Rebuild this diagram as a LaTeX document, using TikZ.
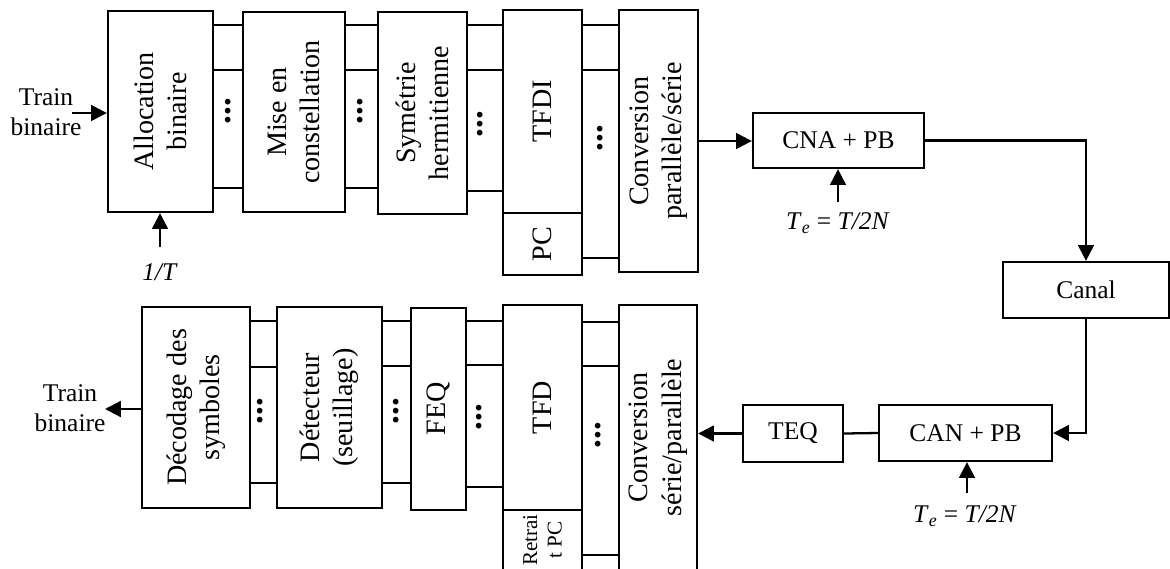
\documentclass[tikz,border=0pt]{standalone}
\usepackage{fontspec}
\setmainfont{Liberation Serif}
\usetikzlibrary{arrows.meta}

\begin{document}
\begin{tikzpicture}[
  wire/.style={line width=1.3pt},
  arr/.style={wire, -{Triangle[length=9pt, width=9pt]}},
  blk/.style={draw, line width=1.3pt, inner sep=0pt},
  hblk/.style={blk, font=\fontsize{14.5}{17}\selectfont},
  vlab/.style={rotate=90, align=center, font=\fontsize{16}{19}\selectfont},
  small/.style={rotate=90, align=center, font=\fontsize{12}{14}\selectfont},
  dots/.style={rotate=90, inner sep=0pt, font=\fontsize{20}{20}\selectfont\bfseries},
  note/.style={align=center, font=\fontsize{14.5}{17}\selectfont}
]
\path[use as bounding box, clip] (0,0) rectangle (23.4,-11.36);

% emission chain
\node[blk, minimum width=2.10cm, minimum height=4.02cm] (alloc) at (3.21,-2.23) {};
\node[blk, minimum width=2.04cm, minimum height=4.00cm] (mise) at (5.88,-2.24) {};
\node[blk, minimum width=1.78cm, minimum height=4.04cm] (sym) at (8.45,-2.26) {};
\node[blk, minimum width=1.58cm, minimum height=4.06cm] (tfdi) at (10.85,-2.23) {};
\node[blk, minimum width=1.58cm, minimum height=1.24cm] (pc) at (10.85,-4.88) {};
\node[blk, minimum width=1.58cm, minimum height=5.24cm] (convps) at (13.17,-2.82) {};

\node[vlab] at (alloc) {Allocation\\binaire};
\node[vlab] at (mise) {Mise en\\constellation};
\node[vlab] at (sym) {Symétrie\\hermitienne};
\node[vlab] at (tfdi) {TFDI};
\node[vlab] at (pc) {PC};
\node[vlab] at (convps) {Conversion\\parallèle/série};

\node[hblk, minimum width=3.42cm, minimum height=1.10cm] (cna) at (16.77,-2.81) {CNA + PB};
\node[hblk, minimum width=3.32cm, minimum height=1.12cm] (canal) at (21.72,-5.80) {Canal};

% reception chain
\node[hblk, minimum width=3.46cm, minimum height=1.12cm] (can) at (19.31,-8.66) {CAN + PB};
\node[hblk, minimum width=2.00cm, minimum height=1.14cm] (teq) at (15.86,-8.67) {TEQ};

\node[blk, minimum width=2.16cm, minimum height=4.02cm] (dec) at (3.92,-8.15) {};
\node[blk, minimum width=2.10cm, minimum height=4.02cm] (det) at (6.59,-8.15) {};
\node[blk, minimum width=1.10cm, minimum height=4.04cm] (feq) at (8.77,-8.18) {};
\node[blk, minimum width=1.58cm, minimum height=4.10cm] (tfd) at (10.85,-8.15) {};
\node[blk, minimum width=1.58cm, minimum height=1.20cm] (ret) at (10.85,-10.80) {};
\node[blk, minimum width=1.56cm, minimum height=5.30cm] (convsp) at (13.16,-8.75) {};

\node[vlab] at (dec) {Décodage des\\symboles};
\node[vlab] at (det) {Détecteur\\(seuillage)};
\node[vlab] at (feq) {FEQ};
\node[vlab] at (tfd) {TFD};
\node[small] at (ret) {Retrai\\t PC};
\node[vlab] at (convsp) {Conversion\\série/parallèle};

% parallel links
\foreach \a/\b/\y in {alloc/mise/0.50, alloc/mise/1.40, alloc/mise/3.76,
                      mise/sym/0.50, mise/sym/1.40, mise/sym/3.76,
                      sym/tfdi/0.50, sym/tfdi/1.40, sym/tfdi/3.82,
                      tfdi/convps/0.50, tfdi/convps/1.40, pc/convps/5.16,
                      dec/det/6.42, dec/det/7.34, dec/det/9.66,
                      det/feq/6.42, det/feq/7.32, det/feq/9.66,
                      feq/tfd/6.42, feq/tfd/7.30, feq/tfd/9.74,
                      tfd/convsp/6.44, tfd/convsp/7.32, ret/convsp/11.10}
  \draw[wire] (\a.east |- 0,-\y) -- (\b.west |- 0,-\y);

\foreach \x/\y in {4.56/2.22, 7.20/2.22, 9.60/2.48, 12.00/2.76,
                   5.20/8.22, 7.92/8.22, 9.58/8.34, 11.96/8.70}
  \node[dots] at (\x,-\y) {...};

% inputs and outputs
\node[note] (trin) at (0.92,-2.24) {Train\\binaire};
\coordinate (inA) at (1.44,-2.26);
\draw[arr] (inA) -- (inA -| alloc.west);

\node[note] (clk) at (3.20,-5.44) {\textit{1/T}};
\coordinate (clkA) at (3.20,-4.94);
\draw[arr] (clkA) -- (clkA |- alloc.south);

\node[note] (te1) at (16.76,-4.46) {\textit{T}\textsubscript{\textit{e}} = \textit{T/2N}};
\coordinate (te1A) at (16.76,-4.04);
\draw[arr] (te1A) -- (te1A |- cna.south);

\node[note] (te2) at (19.30,-10.32) {\textit{T}\textsubscript{\textit{e}} = \textit{T/2N}};
\coordinate (te2A) at (19.34,-9.86);
\draw[arr] (te2A) -- (te2A |- can.south);

\node[note] (trout) at (1.40,-8.16) {Train\\binaire};
\coordinate (outA) at (2.10,-8.18);
\draw[arr] (outA -| dec.west) -- (outA);

% channel loop
\draw[arr] (convps.east) -- (convps.east -| cna.west);
\draw[arr] (cna.east) -| (canal.north);
\draw[arr] (canal.south) |- (can.east);
\draw[wire] (can.west) -- (teq.east);
\draw[arr] (teq.west) -- (teq.west -| convsp.east);

\end{tikzpicture}
\end{document}
